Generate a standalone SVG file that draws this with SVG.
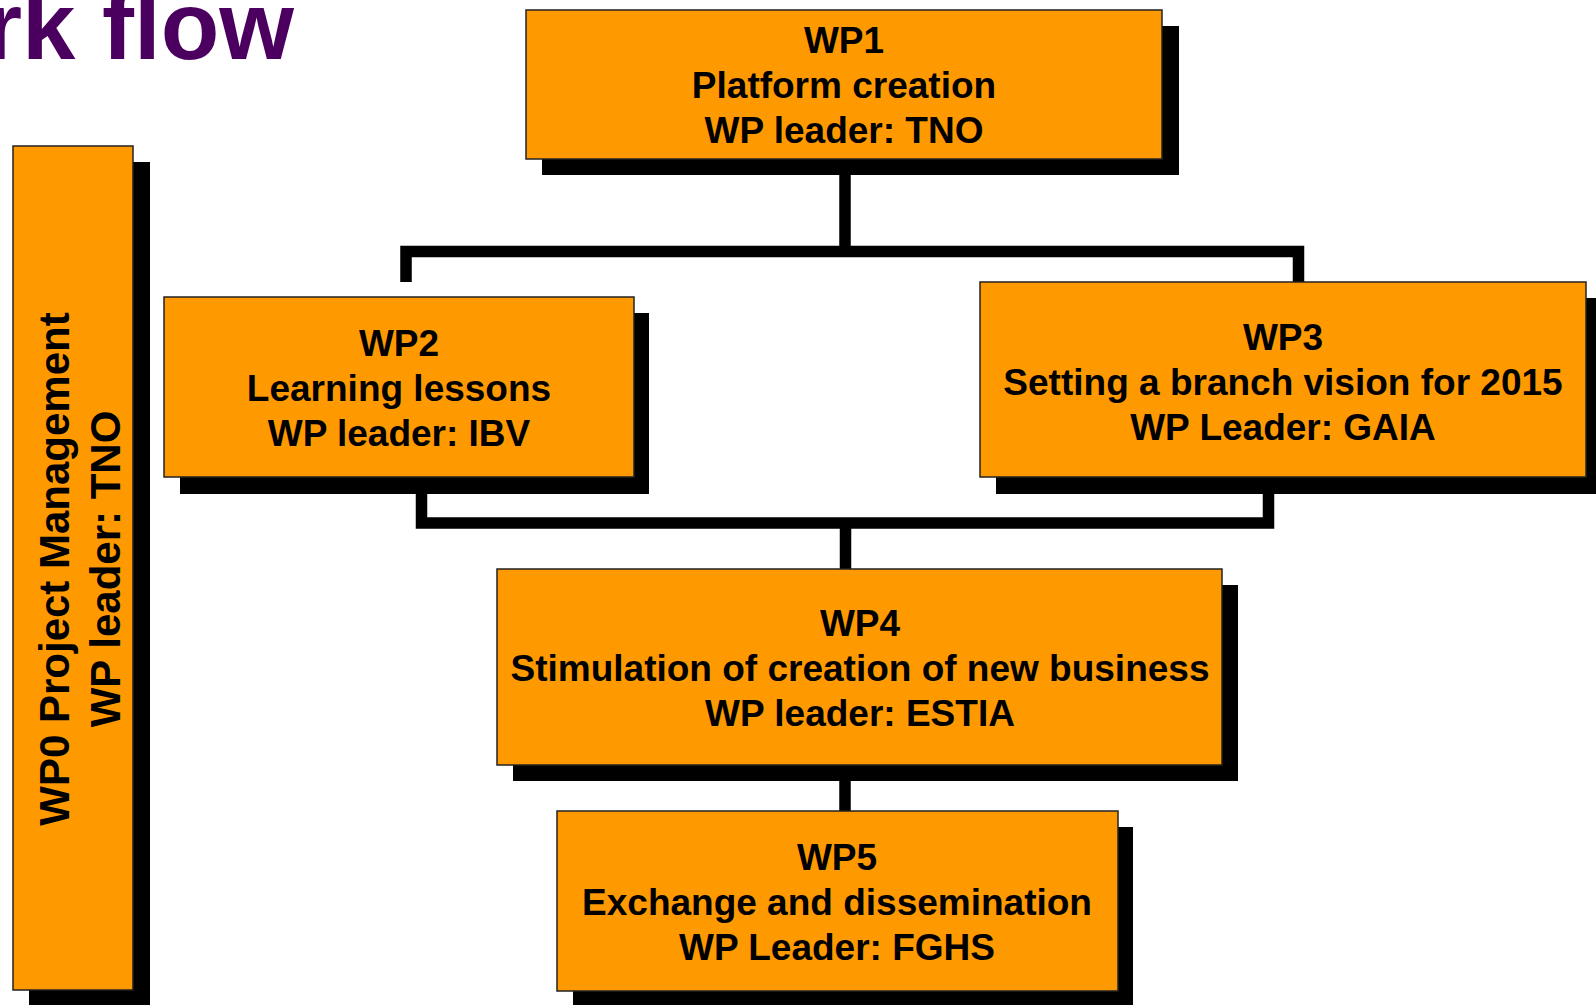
<svg xmlns="http://www.w3.org/2000/svg" width="1596" height="1005" viewBox="0 0 1596 1005">
<style>
.box{fill:#FF9900;stroke:#222;stroke-width:1.5}
.shadow{fill:#000}
.t{font-family:"Liberation Sans",Arial,Helvetica,sans-serif;font-weight:bold;font-size:37px;fill:#000;text-anchor:middle}
.t0{font-size:42px}
.conn{fill:none;stroke:#000;stroke-width:11.5;stroke-linejoin:miter;stroke-linecap:butt}
.title{font-family:"Liberation Sans",Arial,Helvetica,sans-serif;font-weight:bold;font-size:96px;fill:#4B0060;text-anchor:end}
</style>
<rect width="1596" height="1005" fill="#fff"/>
<text class="title" x="294" y="59">rk flow</text>
<g id="connectors">
<path class="conn" d="M845,175 V251.5"/>
<path class="conn" d="M406,282 V251.5 H1298.5 V282"/>
<path class="conn" d="M421.5,494 V523 H1268.5 V494"/>
<path class="conn" d="M845.5,523 V569"/>
<path class="conn" d="M845,781 V811"/>
</g>
<g id="wp0">
<rect class="shadow" x="29" y="162" width="121" height="850"/>
<rect class="box" x="13" y="146" width="120" height="844"/>
<text class="t t0" transform="translate(69,569) rotate(-90)">WP0 Project Management</text>
<text class="t t0" transform="translate(120,569) rotate(-90)">WP leader: TNO</text>
</g>
<g id="wp1">
<rect class="shadow" x="542" y="26" width="637" height="149"/>
<rect class="box" x="526" y="10" width="636" height="149"/>
<text class="t" x="844" y="53">WP1</text>
<text class="t" x="844" y="98">Platform creation</text>
<text class="t" x="844" y="143">WP leader: TNO</text>
</g>
<g id="wp2">
<rect class="shadow" x="180" y="313" width="469" height="181"/>
<rect class="box" x="164" y="297" width="470" height="180"/>
<text class="t" x="399" y="356">WP2</text>
<text class="t" x="399" y="401">Learning lessons</text>
<text class="t" x="399" y="446">WP leader: IBV</text>
</g>
<g id="wp3">
<rect class="shadow" x="996" y="298" width="610" height="196"/>
<rect class="box" x="980" y="282" width="606" height="195"/>
<text class="t" x="1283" y="350">WP3</text>
<text class="t" x="1283" y="395">Setting a branch vision for 2015</text>
<text class="t" x="1283" y="440">WP Leader: GAIA</text>
</g>
<g id="wp4">
<rect class="shadow" x="513" y="585" width="725" height="196"/>
<rect class="box" x="497" y="569" width="725" height="196"/>
<text class="t" x="860" y="636">WP4</text>
<text class="t" x="860" y="681">Stimulation of creation of new business</text>
<text class="t" x="860" y="726">WP leader: ESTIA</text>
</g>
<g id="wp5">
<rect class="shadow" x="573" y="827" width="560" height="190"/>
<rect class="box" x="557" y="811" width="561" height="180"/>
<text class="t" x="837" y="870">WP5</text>
<text class="t" x="837" y="915">Exchange and dissemination</text>
<text class="t" x="837" y="960">WP Leader: FGHS</text>
</g>
</svg>
